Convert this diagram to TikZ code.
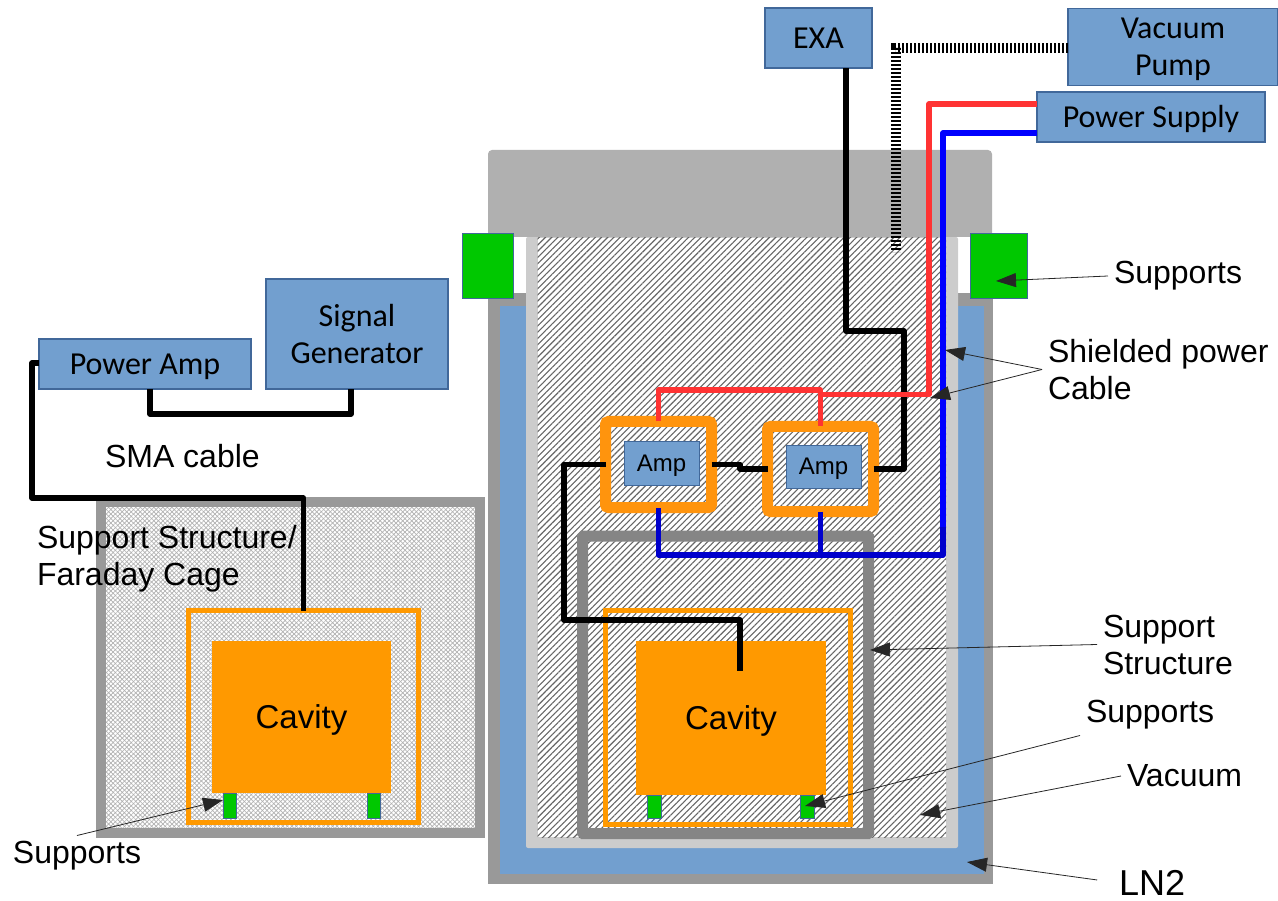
\documentclass[tikz,border=0pt]{standalone}
\usepackage{fontspec}
\setmainfont{Liberation Sans}
\newfontfamily\boxfont{Carlito}
\usepackage{tikz}
\usetikzlibrary{arrows.meta,patterns.meta}

\definecolor{vesselgray}{HTML}{999999}
\definecolor{lidgray}{HTML}{B0B0B0}
\definecolor{linergray}{HTML}{CCCCCC}
\definecolor{framegray}{HTML}{858585}
\definecolor{boxblue}{HTML}{729FCF}
\definecolor{boxedge}{HTML}{41689A}
\definecolor{cavorange}{HTML}{FF9900}
\definecolor{ampframe}{HTML}{FF940D}
\definecolor{suppgreen}{HTML}{00C800}
\definecolor{redwire}{HTML}{FF3333}

\tikzset{
    bluebox/.style={
        draw=boxedge,
        line width=1.8pt,
        fill=boxblue,
        inner sep=0pt,
        outer sep=0pt,
        align=center,
        font=\boxfont\fontsize{32}{37}\selectfont
    },
    ampbox/.style={
        draw=boxedge,
        line width=1pt,
        fill=boxblue,
        inner sep=0pt,
        outer sep=0pt,
        text depth=0pt,
        font=\fontsize{24}{26}\selectfont
    },
    ampring/.style={
        draw=ampframe,
        line width=11pt,
        rounded corners=3pt,
        inner sep=0pt,
        outer sep=0pt
    },
    cavring/.style={
        draw=cavorange,
        line width=5pt,
        inner sep=0pt,
        outer sep=0pt
    },
    cavbox/.style={
        fill=cavorange,
        inner sep=0pt,
        outer sep=0pt,
        text depth=0pt,
        font=\fontsize{33}{37}\selectfont
    },
    labeltext/.style={
        inner sep=6pt,
        outer sep=0pt,
        align=left,
        font=\fontsize{32}{37}\selectfont
    },
    oneline/.style={text height=24pt, text depth=2pt},
    wire/.style={line width=5.5pt, line join=round},
    pointer/.style={
        -{Triangle[length=20pt,width=14pt]},
        line width=0.8pt,
        black!85
    },
    stand/.style={
        draw=boxedge,
        line width=0.6pt,
        fill=suppgreen
    }
}

\begin{document}
\begin{tikzpicture}[x=1pt, y=-1pt]

\useasboundingbox (0,0) rectangle (1278,901);

% ---------------- DEWAR ----------------

% Outer wall
\fill[vesselgray] (488,293) rectangle (993,884);

% LN2
\fill[boxblue] (500,306) rectangle (984,874);

% Liner
\fill[linergray, rounded corners=2pt] (526,237) rectangle (958,848);

% Vacuum space
\fill[white] (537.5,238) rectangle (946,837);
\fill[
    pattern={Lines[angle=45,distance=4.4pt,line width=1.1pt]},
    pattern color=black!60
] (537.5,238) rectangle (946,837);

% Lid
\fill[lidgray, rounded corners=4pt] (488,150) rectangle (992,237);

% Side supports
\draw[stand] (462.5,233) rectangle (513,298);
\draw[stand] (970,233) rectangle (1027,298);

% Support structure
\draw[
    framegray,
    line width=11pt,
    rounded corners=1pt
] (582.5,536) rectangle (868.5,833.5);


% ---------------- FARADAY CAGE ----------------

\fill[white] (100,501) rectangle (480,833);
\fill[
    pattern={Lines[angle=45,distance=3.2pt,line width=0.7pt]},
    pattern color=black!30
] (100,501) rectangle (480,833);
\fill[
    pattern={Lines[angle=-45,distance=3.2pt,line width=0.7pt]},
    pattern color=black!30
] (100,501) rectangle (480,833);

\draw[vesselgray, line width=10pt] (100.5,501.5) rectangle (479.5,833);


% ---------------- BOXES ----------------

\node[bluebox, oneline, minimum width=107pt, minimum height=60pt] (exa) at (818.5,38) {EXA};
\node[bluebox, text depth=0pt, minimum width=210pt, minimum height=77pt] (pump) at (1173,47) {Vacuum\\Pump};
\node[bluebox, oneline, minimum width=228pt, minimum height=50pt] (supply) at (1151,117) {Power Supply};
\node[bluebox, oneline, minimum width=212pt, minimum height=50pt] (poweramp) at (145,364) {Power Amp};
\node[bluebox, text depth=0pt, minimum width=182pt, minimum height=110pt] (siggen) at (357,334) {Signal\\Generator};


% ---------------- AMPS ----------------

\node[ampring, minimum width=106pt, minimum height=86pt] (ringA) at (658.5,464.5) {};
\node[ampring, minimum width=106pt, minimum height=85pt] (ringB) at (820.5,469) {};
\node[ampbox, minimum width=75pt, minimum height=44pt] (ampA) at (661.5,463) {Amp};
\node[ampbox, minimum width=75pt, minimum height=43pt] (ampB) at (823.5,466.5) {Amp};


% ---------------- CAVITIES ----------------

\node[cavring, minimum width=230pt, minimum height=212pt] (ringL) at (303.5,716.5) {};
\node[cavbox, minimum width=179pt, minimum height=152pt] (cavityL) at (301.5,717) {Cavity};
\draw[stand] (223,793) rectangle (236,818);
\draw[stand] (367,793) rectangle (380,818);

\node[cavring, minimum width=245pt, minimum height=214pt] (ringR) at (728,717.5) {};
\node[cavbox, minimum width=190pt, minimum height=154pt] (cavityR) at (731,718) {Cavity};
\draw[stand] (647,795) rectangle (661,818);
\draw[stand] (800,795) rectangle (814,818);


% ---------------- WIRES ----------------

\coordinate (pumpcorner) at (896,48);
\coordinate (pumpend) at (896,252);
\coordinate (exaout) at (846,68);
\coordinate (cavin) at (740,671);
\coordinate (poweramptap) at (39,363);
\coordinate (siggentap) at (351,389);
\coordinate (amptap) at (150,389);
\coordinate (redout) at (1037,104);
\coordinate (blueout) at (1037,133);

% Vacuum line
\draw[
    line width=10pt,
    dash pattern=on 2pt off 2pt
] (pump.west |- pumpcorner) -- (pumpcorner) -- (pumpend);

% Signal
\draw[wire] (amptap) -- (150,414) -- (351,414) -- (siggentap);
\draw[wire] (poweramptap) -- (32,363) -- (32,498) -- (303.5,498) -- (ringL.north);
\draw[wire] (ringA.west) -- (564,464.5) -- (564,620) -- (740,620) -- (cavin);
\draw[wire] (ringA.east) -- (740,464.5) -- (740,469) -- (ringB.west);
\draw[wire] (ringB.east) -- (904,469) -- (904,331) -- (846,331) -- (exaout);

% Power, red
\draw[wire, redwire] (redout) -- (929,104) -- (929,394.5) -- (820.5,394.5);
\draw[wire, redwire] (ringA.north) -- (658.5,390) -- (820.5,390) -- (ringB.north);

% Power, blue
\draw[wire, blue] (blueout) -- (943,133) -- (943,527);
\draw[wire, blue!80!black] (943,527) -- (943,555) -- (658.5,555) -- (ringA.south);
\draw[wire, blue!80!black] (ringB.south) -- (820.5,555);


% ---------------- LABELS ----------------

\node[labeltext, anchor=west] (smalabel) at (99,456) {SMA cable};
\node[labeltext, anchor=west] (cagelabel) at (31,558.5) {Support Structure/\\Faraday Cage};
\node[labeltext] (supportsL) at (77,856) {Supports};
\node[labeltext, anchor=west] (supportsT) at (1108,276) {Supports};
\node[labeltext, anchor=west] (shieldlabel) at (1042,369.5) {Shielded power\\Cable};
\node[labeltext, anchor=west] (structlabel) at (1097,644.5) {Support\\Structure};
\node[labeltext, anchor=west] (supportsB) at (1080,715) {Supports};
\node[labeltext, anchor=west] (vaclabel) at (1121,776) {Vacuum};
\node[labeltext, anchor=west, inner sep=0pt, font=\fontsize{36}{38}\selectfont] (lnlabel) at (1119,883) {LN2};


% ---------------- POINTERS ----------------

\coordinate (tipT) at (996,281);
\coordinate (tipShieldA) at (945,350);
\coordinate (tipShieldB) at (930,398);
\coordinate (tipStruct) at (870,650);
\coordinate (tipB) at (805,806);
\coordinate (tipVac) at (920,815);
\coordinate (tipLN) at (967,862);
\coordinate (tipL) at (223,800);

\draw[pointer] (supportsT.west) -- (tipT);
\draw[pointer] (shieldlabel.west) -- (tipShieldA);
\draw[pointer] (shieldlabel.west) -- (tipShieldB);
\draw[pointer] (structlabel.west) -- (tipStruct);
\draw[pointer] (supportsB.south west) -- (tipB);
\draw[pointer] (vaclabel.west) -- (tipVac);
\draw[pointer, shorten <=22pt] (lnlabel.west) -- (tipLN);
\draw[pointer] (supportsL.north) -- (tipL);

\end{tikzpicture}
\end{document}
